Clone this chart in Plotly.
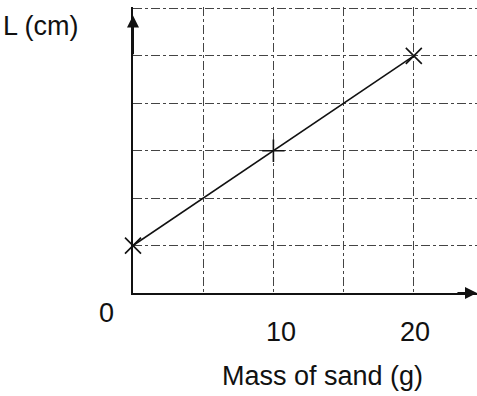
import plotly.graph_objects as go

# values (L has no scale, one grid square = 1 unit)
mass_g = [0, 10, 20]
length_cm = [1, 3, 5]

tick_vals = [0, 10, 20]
tick_text = ["0", "10", "20"]

x_title = "Mass of sand (g)"
y_title = "L (cm)"

FONT = dict(family="Liberation Sans, Arial, sans-serif", size=27, color="#111")
INK = "#111"

fig = go.Figure()

fig.add_trace(
    go.Scatter(
        x=mass_g,
        y=length_cm,
        mode="lines+markers",
        line=dict(color=INK, width=1.6),
        marker=dict(
            symbol=["x-thin", "cross-thin", "x-thin"],
            size=16,
            line=dict(color=INK, width=1.6),
        ),
        cliponaxis=False,
        showlegend=False,
        hoverinfo="skip",
    )
)

# tick numbers sit well below the axis, "0" to the lower left of the origin
shifts = {0: (-27, -20), 10: (8, -39), 20: (1, -39)}
for v, t in zip(tick_vals, tick_text):
    dx, dy = shifts[v]
    fig.add_annotation(x=v, y=0, xref="x", yref="y", text=t, showarrow=False,
                       font=FONT, xshift=dx, yshift=dy)

# axis arrows
fig.add_annotation(x=24.5, y=0, ax=23.0, ay=0, xref="x", yref="y", axref="x", ayref="y",
                   text="", showarrow=True, arrowhead=2, arrowsize=1.2,
                   arrowwidth=2, arrowcolor=INK)
fig.add_annotation(x=0, y=5.85, ax=0, ay=5.0, xref="x", yref="y", axref="x", ayref="y",
                   text="", showarrow=True, arrowhead=2, arrowsize=1.2,
                   arrowwidth=2, arrowcolor=INK)

# axis titles (paper coords so they can sit outside the plot area)
fig.add_annotation(x=0.55, y=0, xref="paper", yref="paper", text=x_title,
                   showarrow=False, font=FONT, yshift=-100, xanchor="center")
fig.add_annotation(x=-0.268, y=0.935, xref="paper", yref="paper", text=y_title,
                   showarrow=False, font=FONT, xanchor="center", yanchor="middle")

grid = dict(showgrid=True, gridcolor="#444", gridwidth=1, griddash="dashdot",
            zeroline=False, showticklabels=False, ticks="")

fig.update_xaxes(range=[0, 24.5], dtick=5, showline=True, linecolor=INK,
                 linewidth=2, **grid)
fig.update_yaxes(range=[0, 6.03], dtick=1, showline=True, linecolor=INK,
                 linewidth=2, **grid)

fig.update_layout(
    width=477,
    height=396,
    margin=dict(l=133, r=0, t=7, b=103, autoexpand=False),
    plot_bgcolor="white",
    paper_bgcolor="white",
    font=FONT,
)

# drop the browser's default body margin so the figure sits at the page corner
fig.write_html("out.html", config={"displayModeBar": False},
               post_script="document.body.style.margin='0';")
